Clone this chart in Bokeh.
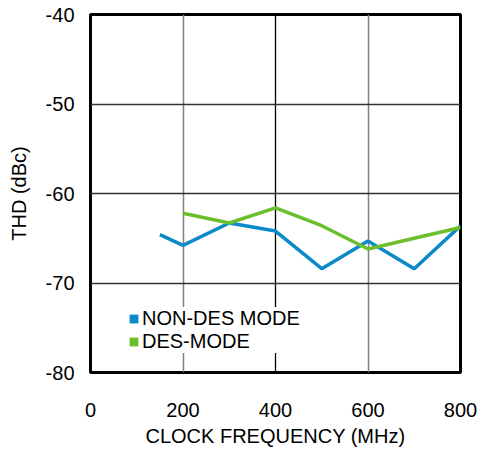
from bokeh.plotting import figure
from bokeh.models import Range1d, FixedTicker, Grid, Legend, LegendItem
from bokeh.embed import file_html
from bokeh.resources import INLINE

freq_non_des = [150, 200, 300, 400, 500, 600, 700, 800]
thd_non_des = [-64.6, -65.8, -63.3, -64.2, -68.4, -65.3, -68.4, -63.6]
freq_des = [200, 300, 400, 500, 600, 700, 800]
thd_des = [-62.2, -63.3, -61.6, -63.6, -66.2, -65.0, -63.8]
x_ticks = [0, 200, 400, 600, 800]
y_ticks = [-80, -70, -60, -50, -40]
series_labels = ["NON-DES MODE", "DES-MODE"]

BLUE = "#0a8ac8"
GREEN = "#6cbf2c"
FONT = "Liberation Sans"

p = figure(width=477, height=449, output_backend="svg", toolbar_location=None,
           x_range=Range1d(0, 800), y_range=Range1d(-80, -40),
           min_border_left=90, min_border_right=17, min_border_top=14, min_border_bottom=75)

p.outline_line_color = "black"
p.outline_line_width = 3

p.xgrid.visible = False
p.ygrid.visible = False
p.add_layout(Grid(dimension=0, ticker=FixedTicker(ticks=[200, 600]), grid_line_color="#7f7f7f", grid_line_width=1.5))
p.add_layout(Grid(dimension=0, ticker=FixedTicker(ticks=[400]), grid_line_color="black", grid_line_width=1.3))
p.add_layout(Grid(dimension=1, ticker=FixedTicker(ticks=[-70, -60, -50]), grid_line_color="#333333", grid_line_width=1.3))

for ax in (p.xaxis[0], p.yaxis[0]):
    ax.axis_line_color = None
    ax.major_tick_line_color = None
    ax.minor_tick_line_color = None
    ax.major_label_text_font = FONT
    ax.major_label_text_font_size = "20px"
    ax.major_label_text_color = "black"
    ax.axis_label_text_font = FONT
    ax.axis_label_text_font_size = "20px"
    ax.axis_label_text_font_style = "normal"
    ax.axis_label_text_color = "black"

p.xaxis.ticker = FixedTicker(ticks=x_ticks)
p.yaxis.ticker = FixedTicker(ticks=y_ticks)
p.yaxis.major_label_overrides = {v: str(v) for v in y_ticks}
p.xaxis.axis_label = "CLOCK FREQUENCY (MHz)"
p.yaxis.axis_label = "THD (dBc)"
p.xaxis.major_label_standoff = 24
p.xaxis.axis_label_standoff = 5
p.yaxis.major_label_standoff = 10
p.yaxis.axis_label_standoff = 13

p.line(freq_non_des, thd_non_des, line_color=BLUE, line_width=3.5)
p.line(freq_des, thd_des, line_color=GREEN, line_width=3.5)

# hidden bar renderers of the same series, used only for the square legend swatches
s1 = p.vbar(x=freq_non_des, top=thd_non_des, width=1, fill_color=BLUE, line_color=None, visible=False)
s2 = p.vbar(x=freq_des, top=thd_des, width=1, fill_color=GREEN, line_color=None, visible=False)

legend = Legend(items=[LegendItem(label=series_labels[0], renderers=[s1]),
                       LegendItem(label=series_labels[1], renderers=[s2])],
                location=(38, 19), label_text_font=FONT, label_text_font_size="20px",
                label_text_color="black", glyph_width=11, glyph_height=11, label_standoff=3,
                spacing=0, label_height=19, padding=2, margin=0,
                inactive_fill_alpha=0, click_policy="none",
                border_line_color=None, background_fill_color="white", background_fill_alpha=1)
p.add_layout(legend, "center")

open("out.html", "w").write(file_html(p, INLINE))
